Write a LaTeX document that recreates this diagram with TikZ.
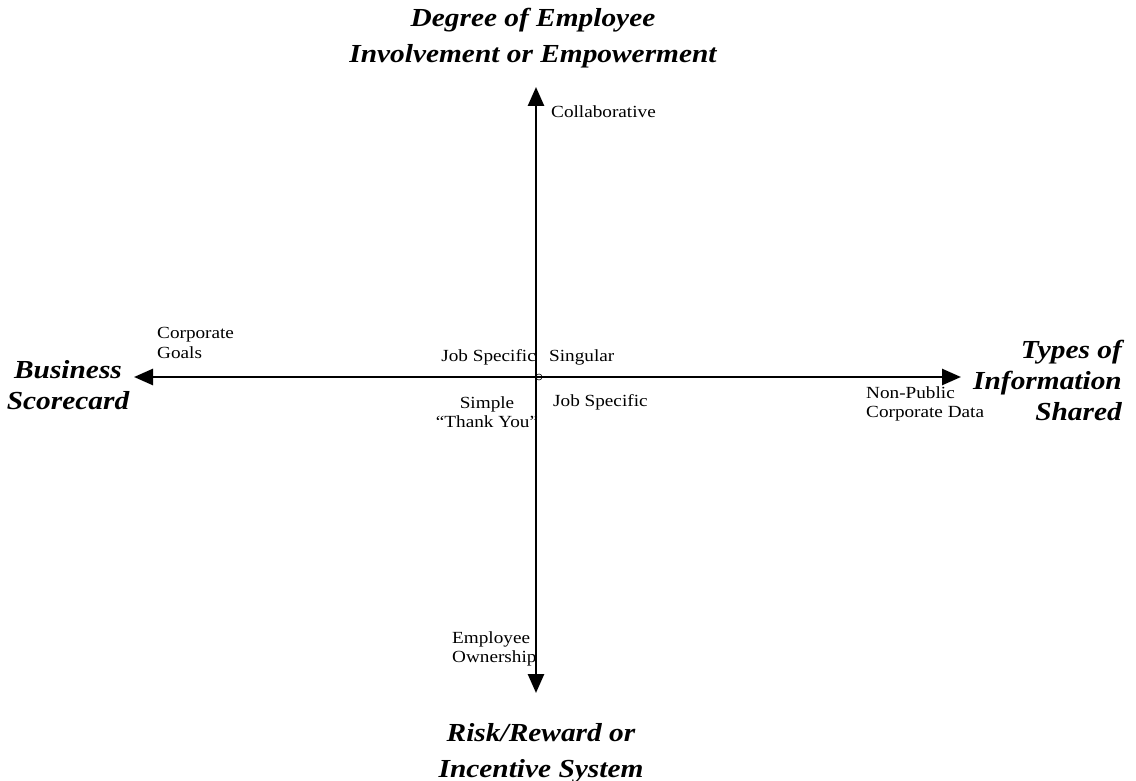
\documentclass[tikz,border=0pt]{standalone}
\usepackage{fontspec}
\setmainfont{Liberation Serif}[FakeStretch=1.13]
\usetikzlibrary{arrows.meta}
\begin{document}
\begin{tikzpicture}[x=1pt,y=-1pt,
  axis/.style={line width=2.6pt,{Triangle[length=19pt,width=16pt]}-{Triangle[length=19pt,width=16pt]}},
  small/.style={inner sep=0pt,font=\fontsize{17}{19.5}\selectfont},
  title/.style={inner sep=0pt,font=\fontsize{26}{36}\selectfont\bfseries\itshape},
  sidetitle/.style={inner sep=0pt,font=\fontsize{26}{31}\selectfont\bfseries\itshape}]
\useasboundingbox (0,0) rectangle (1136,781);
\coordinate (top) at (536,87);
\coordinate (bottom) at (536,693);
\coordinate (left) at (134,377);
\coordinate (right) at (961,377);
\draw[axis] (left) -- (right);
\draw[axis] (top) -- (bottom);
\draw[line width=0.6pt] (539,377) circle (3);
\node[title,align=center] (tt) at (533,38) {Degree of Employee\\Involvement or Empowerment};
\node[title,align=center] (tb) at (541,753) {Risk/Reward or\\Incentive System};
\node[sidetitle,align=center] (tl) at (68,385) {Business\\Scorecard};
\node[sidetitle,align=right,anchor=east] (tr) at (1122,380) {Types of\\Information\\Shared};
\node[small,anchor=west] (collab) at (551,112) {Collaborative};
\node[small,anchor=west,align=left] (corp) at (157,343) {Corporate\\Goals};
\node[small,anchor=east] (js1) at (536,357) {Job Specific};
\node[small,anchor=west] (sing) at (549,357) {Singular};
\node[small,align=center] (simple) at (487,412) {Simple\\“Thank You”};
\node[small,anchor=west] (js2) at (553,402) {Job Specific};
\node[small,anchor=west,align=left] (np) at (866,404) {Non-Public\\Corporate Data};
\node[small,anchor=west,align=left] (emp) at (452,649) {Employee\\Ownership};
\end{tikzpicture}
\end{document}
